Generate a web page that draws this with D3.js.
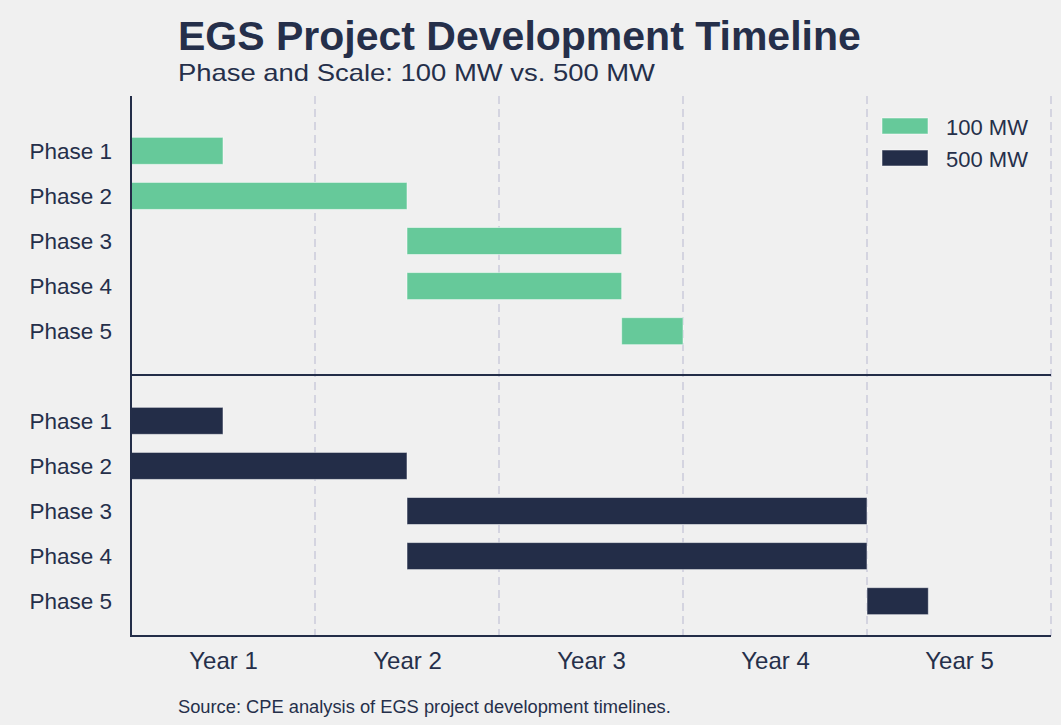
<!DOCTYPE html>
<html>
<head>
<meta charset="utf-8">
<script src="https://cdn.jsdelivr.net/npm/d3@7"></script>
<style>
  html, body { margin: 0; padding: 0; background: #f0f0f0; }
  svg { display: block; font-family: "Liberation Sans", Arial, sans-serif; }
</style>
</head>
<body>
<svg id="chart" width="1061" height="725"></svg>
<script>
// ---- Data (months from project start) ----
const phases = ["Phase 1", "Phase 2", "Phase 3", "Phase 4", "Phase 5"];
const scales = ["100 MW", "500 MW"];
const start100 = [0, 0, 18, 18, 32];
const end100   = [6, 18, 32, 32, 36];
const start500 = [0, 0, 18, 18, 48];
const end500   = [6, 18, 48, 48, 52];
const tickMonths = [6, 18, 30, 42, 54];
const tickLabels = ["Year 1", "Year 2", "Year 3", "Year 4", "Year 5"];
const gridMonths = [12, 24, 36, 48, 60];

(function () {
const colors = {"100 MW": "#66c99a", "500 MW": "#232d48"};
const textColor = "#252f4a";
const axisColor = "#232d48";

const svg = d3.select("#chart");
svg.append("rect").attr("width", 1061).attr("height", 725).attr("fill", "#f0f0f0");

const pLeft = 131, pRight = 1051, pTop = 96, pMid = 375, pBottom = 636;
const x = d3.scaleLinear().domain([0, 60]).range([pLeft, pRight]);

const yTop = d3.scaleBand().domain(phases).range([128.3, 353.7]).paddingInner(0.4).paddingOuter(0.2);
const yBot = d3.scaleBand().domain(phases).range([398.3, 623.7]).paddingInner(0.4).paddingOuter(0.2);

// gridlines
svg.append("g").selectAll("line").data(gridMonths).join("line")
  .attr("x1", d => x(d)).attr("x2", d => x(d))
  .attr("y1", pTop).attr("y2", pBottom)
  .attr("stroke", "#d4d4e0").attr("stroke-width", 2).attr("stroke-dasharray", "8,5");

function drawBars(yScale, starts, ends, color) {
  const data = phases.map((p, i) => ({p, s: starts[i], e: ends[i]}));
  svg.append("g").selectAll("rect").data(data).join("rect")
    .attr("x", d => x(d.s))
    .attr("y", d => yScale(d.p) + yScale.bandwidth() / 2 - 13.5)
    .attr("width", d => x(d.e) - x(d.s))
    .attr("height", 27)
    .attr("fill", color)
    .attr("stroke", "rgba(255,255,255,0.5)").attr("stroke-width", 1);
  svg.append("g").selectAll("text").data(phases).join("text")
    .attr("x", 112).attr("y", d => yScale(d) + yScale.bandwidth() / 2)
    .attr("dy", "0.35em").attr("text-anchor", "end")
    .attr("font-size", 22.5).attr("fill", textColor).text(d => d);
}
drawBars(yTop, start100, end100, colors["100 MW"]);
drawBars(yBot, start500, end500, colors["500 MW"]);

// axis lines
svg.append("line").attr("x1", pLeft).attr("x2", pLeft).attr("y1", pTop).attr("y2", pBottom + 1)
  .attr("stroke", axisColor).attr("stroke-width", 2);
svg.append("line").attr("x1", pLeft).attr("x2", pRight).attr("y1", pBottom).attr("y2", pBottom)
  .attr("stroke", axisColor).attr("stroke-width", 2);
svg.append("line").attr("x1", pLeft).attr("x2", pRight).attr("y1", pMid).attr("y2", pMid)
  .attr("stroke", axisColor).attr("stroke-width", 2);

// x tick labels
const xAxis = d3.axisBottom(x).tickValues(tickMonths).tickFormat((d, i) => tickLabels[i]).tickSize(0).tickPadding(0);
const gx = svg.append("g").attr("transform", `translate(0,${pBottom})`).call(xAxis);
gx.select(".domain").remove();
gx.selectAll("text").attr("font-size", 24).attr("fill", textColor)
  .attr("font-family", "'Liberation Sans', Arial, sans-serif")
  .attr("y", 33).attr("dy", 0);

// legend
const leg = svg.append("g");
scales.forEach((s, i) => {
  leg.append("rect").attr("x", 882).attr("y", 118 + i * 32).attr("width", 46).attr("height", 16)
    .attr("fill", colors[s]).attr("stroke", "rgba(255,255,255,0.5)").attr("stroke-width", 1);
  leg.append("text").attr("x", 946).attr("y", 135 + i * 32).attr("font-size", 22)
    .attr("fill", textColor).text(s);
});

// titles
svg.append("text").attr("x", 178).attr("y", 50).attr("font-size", 41).attr("font-weight", "bold")
  .attr("fill", textColor).text("EGS Project Development Timeline");
svg.append("text").attr("x", 178).attr("y", 80.8).attr("font-size", 24)
  .attr("textLength", 477).attr("lengthAdjust", "spacingAndGlyphs")
  .attr("fill", textColor).text("Phase and Scale: 100 MW vs. 500 MW");
svg.append("text").attr("x", 178).attr("y", 713).attr("font-size", 18.3)
  .attr("fill", textColor).text("Source: CPE analysis of EGS project development timelines.");
})();
</script>
</body>
</html>
